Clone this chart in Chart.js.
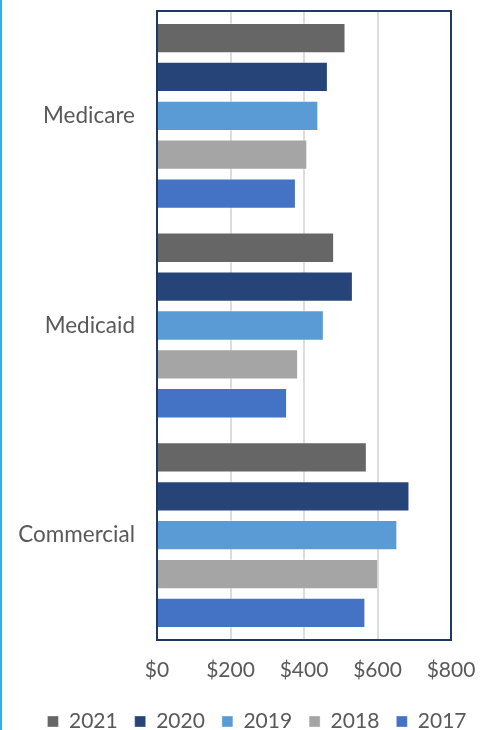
<!DOCTYPE html>
<html>
<head>
<meta charset="utf-8">
<script src="https://cdn.jsdelivr.net/npm/chart.js@4"></script>
<style>
    html, body { margin: 0; padding: 0; background: #fff; }
    #wrap { position: relative; width: 488px; height: 730px; border-left: 2px solid #2cb2e6; }
</style>
</head>
<body>
<div id="wrap"><canvas id="payerChart" width="488" height="730"></canvas></div>
<script>
// Chart data
const categories = ['Medicare', 'Medicaid', 'Commercial'];
const years = ['2021', '2020', '2019', '2018', '2017'];
const values2021 = [513, 482, 571];
const values2020 = [465, 533, 687];
const values2019 = [439, 454, 654];
const values2018 = [409, 384, 602];
const values2017 = [378, 354, 567];
const xTicks = [0, 200, 400, 600, 800];

const seriesValues = [values2021, values2020, values2019, values2018, values2017];
const seriesColors = ['#666666', '#264478', '#5b9bd5', '#a5a5a5', '#4472c4'];
const textColor = '#595959';
const fontFamily = 'Lato';

// Dark border around the plot area
const plotBorder = {
    id: 'plotBorder',
    afterDraw(chart) {
        const a = chart.chartArea;
        const ctx = chart.ctx;
        ctx.save();
        ctx.strokeStyle = '#1f3864';
        ctx.lineWidth = 2;
        ctx.strokeRect(a.left, a.top, a.right - a.left, a.bottom - a.top);
        ctx.restore();
    }
};

// Legend sits a little right of the canvas centre
const legendShift = {
    id: 'legendShift',
    afterLayout(chart) {
        chart.legend.left = 22;
    }
};

const ctx = document.getElementById('payerChart').getContext('2d');
new Chart(ctx, {
    type: 'bar',
    data: {
        labels: categories,
        datasets: years.map((y, i) => ({
            label: y,
            data: seriesValues[i],
            backgroundColor: seriesColors[i],
            borderColor: 'rgba(255,255,255,0.35)',
            borderWidth: 1,
            categoryPercentage: 0.927,
            barPercentage: 0.78
        }))
    },
    options: {
        indexAxis: 'y',
        responsive: false,
        animation: false,
        layout: { padding: { top: 11, right: 0, left: 0, bottom: -12 } },
        scales: {
            x: {
                min: 0,
                max: 800,
                afterBuildTicks: scale => { scale.ticks = xTicks.map(v => ({ value: v })); },
                ticks: {
                    padding: 18,
                    color: textColor,
                    font: { family: fontFamily, size: 21 },
                    callback: v => '$' + v
                },
                grid: { color: '#dcdcdc', lineWidth: 2, drawTicks: false },
                border: { display: false },
                afterFit: scale => {
                    scale.height = 54;
                    scale.paddingLeft = 0;
                    scale.paddingRight = 39;
                }
            },
            y: {
                ticks: {
                    padding: 22,
                    color: textColor,
                    font: { family: fontFamily, size: 22.5 }
                },
                grid: { display: false, drawTicks: false },
                border: { display: false },
                afterFit: scale => {
                    scale.width = 155;
                    scale.paddingTop = 0;
                    scale.paddingBottom = 0;
                }
            }
        },
        plugins: {
            legend: {
                position: 'bottom',
                labels: {
                    color: textColor,
                    font: { family: fontFamily, size: 21 },
                    boxWidth: 11,
                    boxHeight: 11,
                    padding: 17
                }
            },
            tooltip: { enabled: false }
        }
    },
    plugins: [plotBorder, legendShift]
});
</script>
</body>
</html>
